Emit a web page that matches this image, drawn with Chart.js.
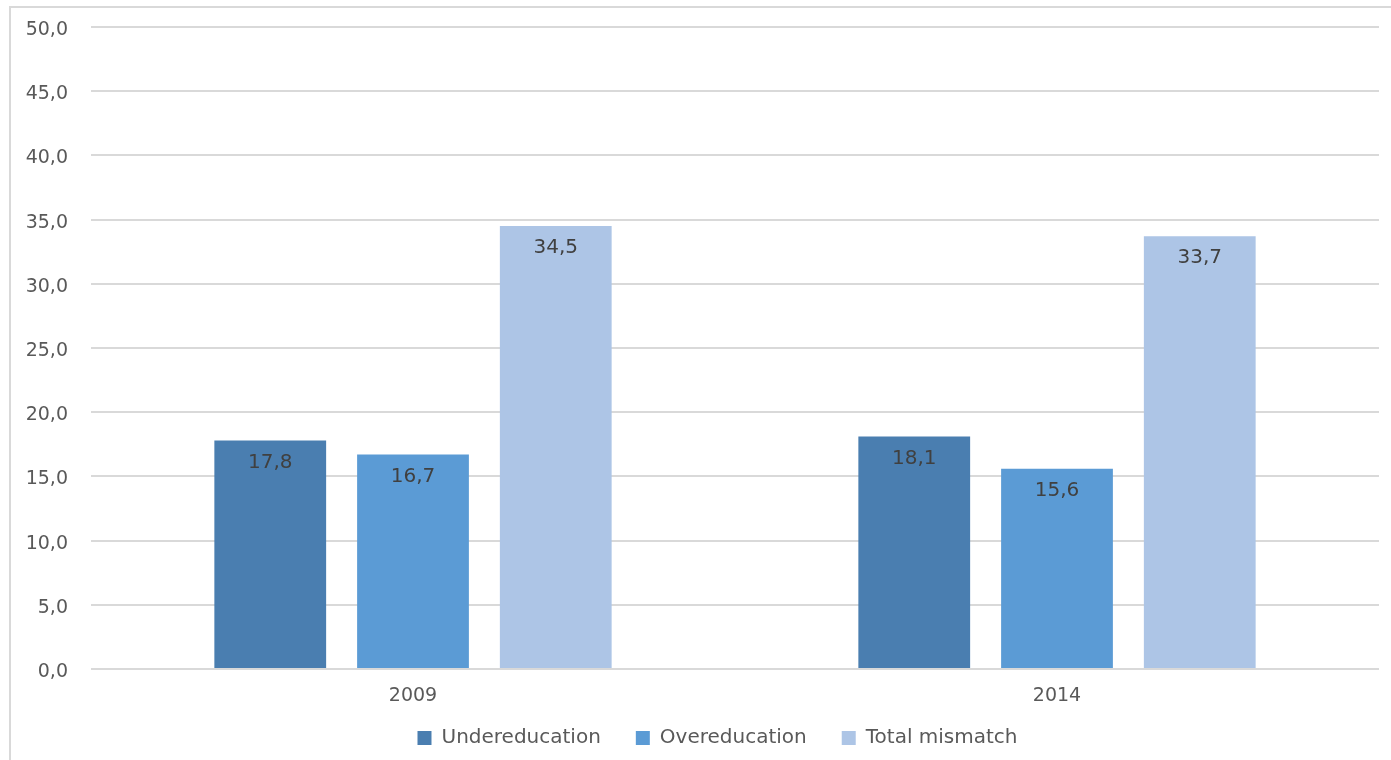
<!DOCTYPE html>
<html>
<head>
<meta charset="utf-8">
<script src="https://cdn.jsdelivr.net/npm/chart.js@4"></script>
<style>
html,body{margin:0;padding:0;background:#fff;}
#wrap{position:relative;width:1391px;height:760px;}
</style>
</head>
<body>
<div id="wrap"><canvas id="c" width="1391" height="760"></canvas></div>
<script>
const categories = ['2009', '2014'];
const undereducation = [17.8, 18.1];
const overeducation = [16.7, 15.6];
const totalMismatch = [34.5, 33.7];
const seriesNames = ['Undereducation', 'Overeducation', 'Total mismatch'];
const seriesColors = ['#4a7eb0', '#5b9bd5', '#adc5e6'];
const yTicks = [0, 5, 10, 15, 20, 25, 30, 35, 40, 45, 50];

const fmt = v => v.toFixed(1).replace('.', ',');
const FONT = '"DejaVu Sans", Verdana, sans-serif';

const borderPlugin = {
  id: 'frame',
  beforeDraw(chart) {
    const ctx = chart.ctx;
    ctx.save();
    ctx.strokeStyle = '#d9d9d9';
    ctx.lineWidth = 2;
    ctx.beginPath();
    ctx.moveTo(10, 770);
    ctx.lineTo(10, 7);
    ctx.lineTo(1400, 7);
    ctx.stroke();
    ctx.restore();
  }
};

const legendShift = {
  id: 'legendShift',
  afterLayout(chart) {
    const lg = chart.legend;
    if (lg) {
      lg.left += 28; lg.right += 28;
      lg.top -= 16; lg.bottom -= 16;
    }
  }
};

const labelPlugin = {
  id: 'barLabels',
  afterDatasetsDraw(chart) {
    const ctx = chart.ctx;
    ctx.save();
    ctx.font = '20px ' + FONT;
    ctx.fillStyle = '#404040';
    ctx.textAlign = 'center';
    ctx.textBaseline = 'middle';
    chart.data.datasets.forEach((ds, i) => {
      const meta = chart.getDatasetMeta(i);
      meta.data.forEach((bar, j) => {
        ctx.fillText(fmt(ds.data[j]), bar.x, bar.y + 22);
      });
    });
    ctx.restore();
  }
};

new Chart(document.getElementById('c'), {
  type: 'bar',
  data: {
    labels: categories,
    datasets: [
      { label: seriesNames[0], data: undereducation, backgroundColor: seriesColors[0] },
      { label: seriesNames[1], data: overeducation, backgroundColor: seriesColors[1] },
      { label: seriesNames[2], data: totalMismatch, backgroundColor: seriesColors[2] }
    ]
  },
  options: {
    responsive: false,
    animation: false,
    layout: { padding: { left: 0, right: 12, top: 27, bottom: -14 } },
    datasets: { bar: { categoryPercentage: 0.665, barPercentage: 0.783 } },
    plugins: {
      tooltip: { enabled: false },
      legend: {
        position: 'bottom',
        labels: {
          font: { family: FONT, size: 20 },
          color: '#595959',
          boxWidth: 14,
          boxHeight: 14,
          padding: 35
        }
      }
    },
    scales: {
      x: {
        afterFit(scale) { scale.height = 40; },
        grid: { display: false, drawTicks: false },
        border: { display: false },
        ticks: { font: { family: FONT, size: 19 }, color: '#595959', padding: 16 }
      },
      y: {
        min: 0,
        max: 50,
        afterBuildTicks(scale) { scale.ticks = yTicks.map(v => ({ value: v })); },
        afterFit(scale) { scale.width = 91; scale.paddingTop = 0; scale.paddingBottom = 0; },
        grid: { color: '#d9d9d9', lineWidth: 2, drawTicks: false },
        border: { display: false },
        ticks: {
          font: { family: FONT, size: 19 },
          color: '#595959',
          padding: 23,
          labelOffset: 3,
          callback: v => fmt(v)
        }
      }
    }
  },
  plugins: [borderPlugin, legendShift, labelPlugin]
});
</script>
</body>
</html>
